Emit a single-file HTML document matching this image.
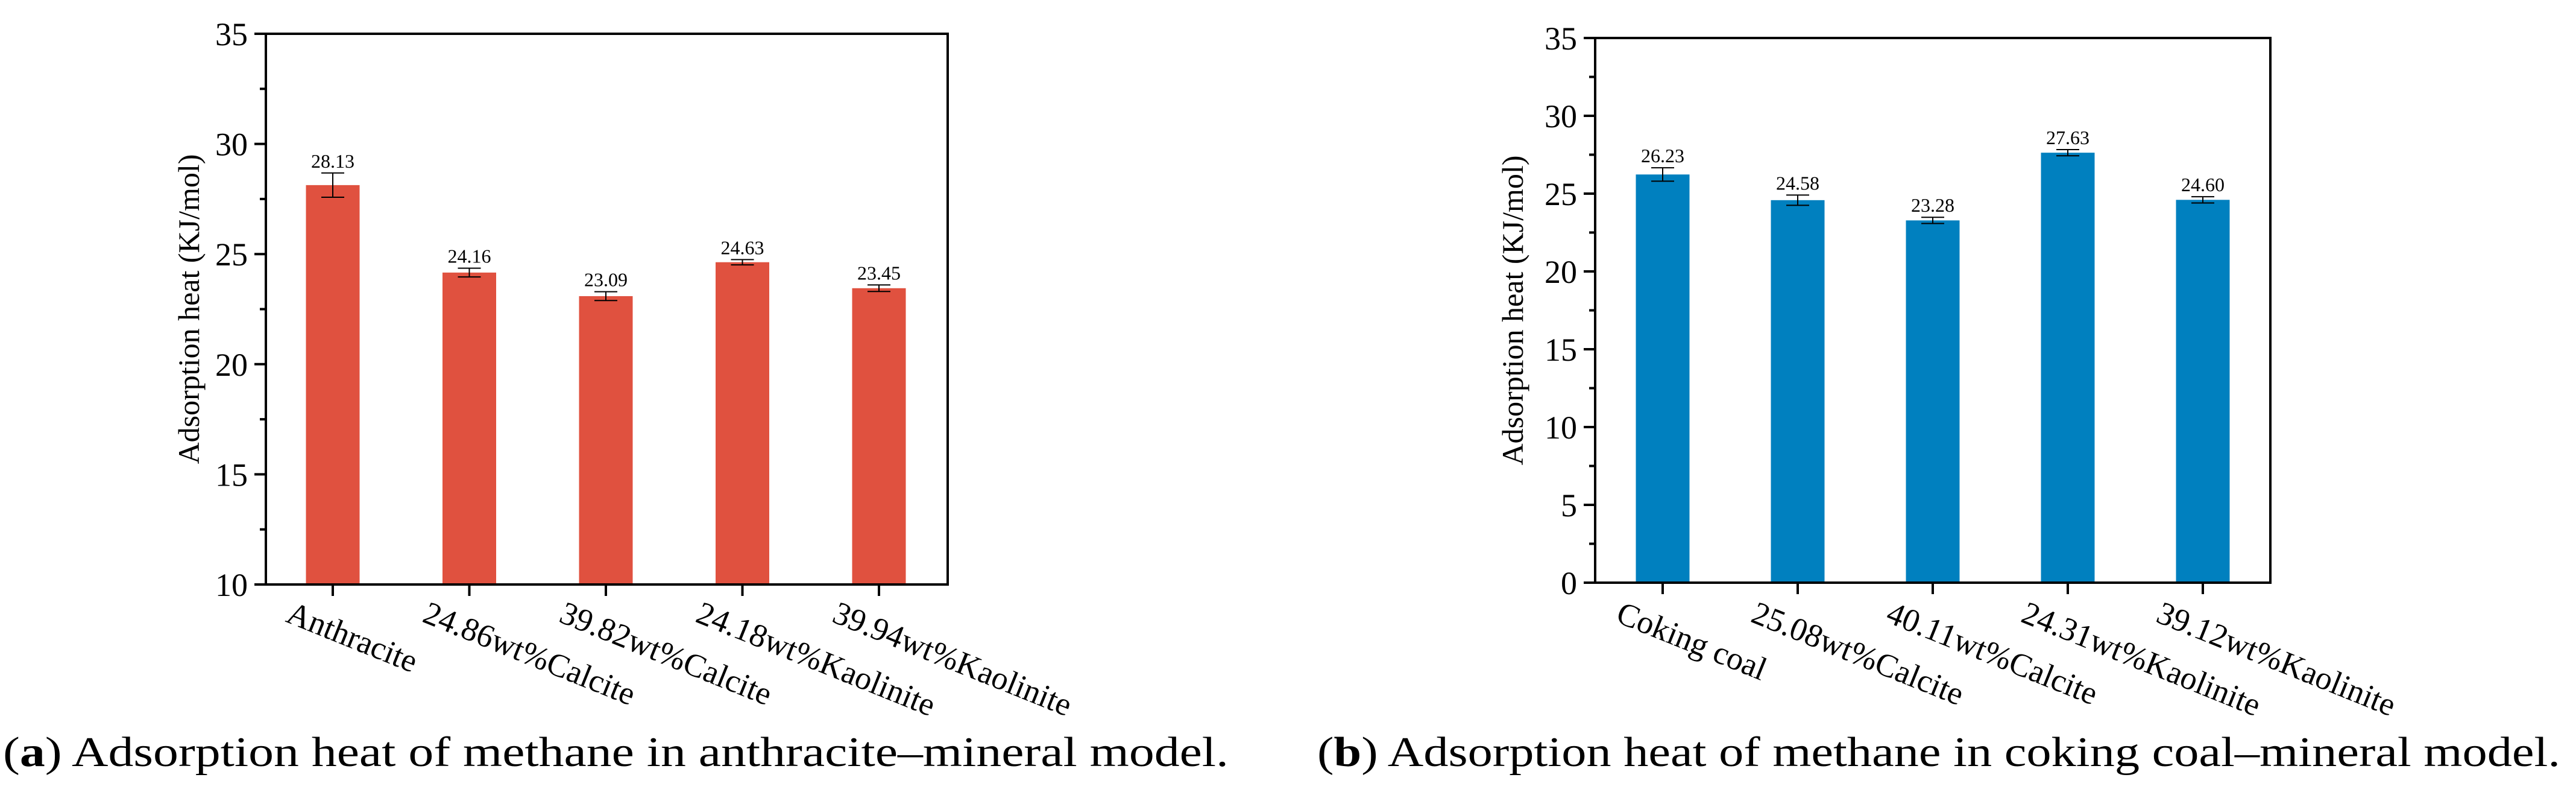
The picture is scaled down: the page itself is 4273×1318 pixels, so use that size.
<!DOCTYPE html>
<html><head><meta charset="utf-8"><style>
html,body{margin:0;padding:0;background:#fff;}
svg, svg text{font-family:"Liberation Serif","Times New Roman",Times,serif;}
</style></head><body>
<svg id="fig" width="4273" height="1313" viewBox="0 0 4273 1313" xmlns="http://www.w3.org/2000/svg" font-family="Liberation Serif, Times New Roman, serif">
<text x="5" y="1270" font-size="70" textLength="2033" lengthAdjust="spacingAndGlyphs">(<tspan font-weight="bold">a</tspan>) Adsorption heat of methane in anthracite–mineral model.</text>
<text x="2185" y="1270" font-size="70" textLength="2062" lengthAdjust="spacingAndGlyphs">(<tspan font-weight="bold">b</tspan>) Adsorption heat of methane in coking coal–mineral model.</text>
</svg>
<script>
const catsA = ["Anthracite","24.86wt%Calcite","39.82wt%Calcite","24.18wt%Kaolinite","39.94wt%Kaolinite"];
const valsA = [28.13,24.16,23.09,24.63,23.45];
const errA = [0.55,0.2,0.2,0.12,0.15];
const labelsA = ["28.13","24.16","23.09","24.63","23.45"];
const ticksA = [10,15,20,25,30,35];
const catsB = ["Coking coal","25.08wt%Calcite","40.11wt%Calcite","24.31wt%Kaolinite","39.12wt%Kaolinite"];
const valsB = [26.23,24.58,23.28,27.63,24.60];
const errB = [0.43,0.33,0.2,0.2,0.2];
const labelsB = ["26.23","24.58","23.28","27.63","24.60"];
const ticksB = [0,5,10,15,20,25,30,35];

const NS="http://www.w3.org/2000/svg";
const svg=document.getElementById('fig');
function mk(tag,attrs,parent){const e=document.createElementNS(NS,tag);for(const k in attrs)e.setAttribute(k,attrs[k]);(parent||svg).appendChild(e);return e;}

function chart(cfg){
  const {x0,x1,yTop,yBot,min,max,first,step,cats,vals,errs,labels,ticks,color,key,titleX}=cfg;
  const g=mk('g',{});
  
  
  const ys=v=>yBot-(v-min)/(max-min)*(yBot-yTop);
  const xs=i=>first+i*step;
  cats.forEach((c,i)=>{
    const bw=89, y=ys(vals[i]);
    const r=mk('rect',{x:xs(i)-bw/2,y:y,width:bw,height:yBot-y,fill:color},g);
    
    
    const yh=ys(vals[i]+errs[i]), yl=ys(vals[i]-errs[i]);
    const eb=mk('path',{d:`M${xs(i)},${yh}V${yl}M${xs(i)-19},${yh}H${xs(i)+19}M${xs(i)-19},${yl}H${xs(i)+19}`,stroke:'#000','stroke-width':2,fill:'none'},g);
    
    
    const t=mk('text',{x:xs(i),y:yh-9,'font-size':32,'text-anchor':'middle'},g);
    t.textContent=labels[i];
    
    
    const tk=mk('line',{x1:xs(i),x2:xs(i),y1:yBot,y2:yBot+19,stroke:'#000','stroke-width':4},g);
    
    
    const lx=xs(i)-80, ly=1030;
    const lt=mk('text',{x:lx,y:ly,'font-size':54,transform:`rotate(22 ${lx} ${ly})`},g);
    lt.textContent=c;
    
    
  });
  ticks.forEach((v,i)=>{
    const y=ys(v);
    const l=mk('line',{x1:x0-19,x2:x0,y1:y,y2:y,stroke:'#000','stroke-width':4},g);
    
    
    const t=mk('text',{x:x0-30,y:y+19,'font-size':54,'text-anchor':'end'},g);
    t.textContent=String(v);
    
    
    if(i<ticks.length-1){
      const ym=ys(v+2.5);
      const m=mk('line',{x1:x0-10,x2:x0,y1:ym,y2:ym,stroke:'#000','stroke-width':4},g);
      
      
    }
  });
  const fr=mk('rect',{x:x0,y:yTop,width:x1-x0,height:yBot-yTop,fill:'none',stroke:'#000','stroke-width':4},g);
  
  
  const cy=(yTop+yBot)/2;
  const tt=mk('text',{x:titleX,y:cy,'font-size':50,'text-anchor':'middle',transform:`rotate(-90 ${titleX} ${cy})`},g);
  tt.textContent='Adsorption heat (KJ/mol)';
  
  
}
chart({x0:441,x1:1572,yTop:56,yBot:969,min:10,max:35,first:552,step:226.5,cats:catsA,vals:valsA,errs:errA,labels:labelsA,ticks:ticksA,color:'#E0513F',key:'anthracite',titleX:330});
chart({x0:2646,x1:3766,yTop:63,yBot:966,min:0,max:35,first:2758,step:224,cats:catsB,vals:valsB,errs:errB,labels:labelsB,ticks:ticksB,color:'#0080BF',key:'coking-coal',titleX:2526});
</script>
</body></html>
